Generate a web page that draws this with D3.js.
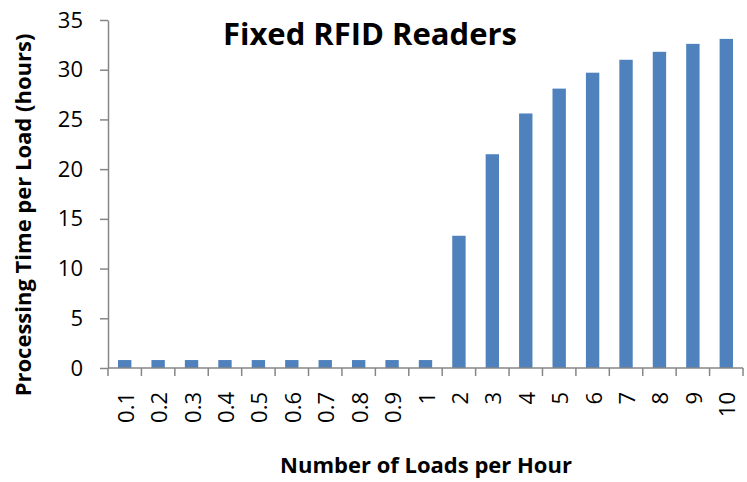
<!DOCTYPE html>
<html>
<head>
<meta charset="utf-8">
<script src="https://cdn.jsdelivr.net/npm/d3@7"></script>
<style>
  body { margin: 0; background: #fff; }
  text { font-family: "Open Sans", "Liberation Sans", sans-serif; }
</style>
</head>
<body>
<script>
const categories = ['0.1', '0.2', '0.3', '0.4', '0.5', '0.6', '0.7', '0.8', '0.9', '1',
                    '2', '3', '4', '5', '6', '7', '8', '9', '10'];
const values = [0.8, 0.8, 0.8, 0.8, 0.8, 0.8, 0.8, 0.8, 0.8, 0.8,
                13.3, 21.5, 25.6, 28.1, 29.7, 31.0, 31.8, 32.6, 33.1];
const yTicks = [0, 5, 10, 15, 20, 25, 30, 35];

const svgWidth = 747;
const svgHeight = 482;
const margin = { top: 20, right: 4, bottom: 114, left: 108 };
const chartWidth = svgWidth - margin.left - margin.right;
const chartHeight = svgHeight - margin.top - margin.bottom;

const svg = d3.select('body').append('svg')
    .attr('width', svgWidth)
    .attr('height', svgHeight);

const g = svg.append('g').attr('transform', 'translate(' + margin.left + ',' + margin.top + ')');

let x = d3.scaleBand().domain(categories).range([0, chartWidth]).paddingInner(0.6).paddingOuter(0.3);
let xTickPos = d3.scaleBand().domain(categories).range([0, chartWidth]);
let y = d3.scaleLinear().domain([0, 35]).range([chartHeight, 0]);

// bars
g.selectAll('.bar')
    .data(values)
    .enter().append('rect')
    .attr('class', 'bar')
    .attr('x', (d, i) => x(categories[i]))
    .attr('y', d => y(d))
    .attr('width', x.bandwidth())
    .attr('height', d => chartHeight - y(d))
    .attr('fill', '#4F81BD');

// y axis
const yAxis = g.append('g')
    .call(d3.axisLeft(y).tickValues(yTicks).tickSize(8).tickSizeOuter(0).tickPadding(17));
yAxis.select('.domain').attr('stroke', '#868686').attr('stroke-width', 1.5);
yAxis.selectAll('.tick line').attr('stroke', '#868686').attr('stroke-width', 1.5);
yAxis.selectAll('.tick text').attr('font-size', 22).attr('fill', '#000');

// x axis with ticks between categories
const xAxisG = g.append('g').attr('transform', 'translate(0,' + chartHeight + ')');
xAxisG.append('line')
    .attr('x1', 0).attr('x2', chartWidth)
    .attr('stroke', '#868686').attr('stroke-width', 1.5);
const tickEdges = categories.map(c => xTickPos(c)).concat([chartWidth]);
xAxisG.selectAll('.xtick')
    .data(tickEdges)
    .enter().append('line')
    .attr('class', 'xtick')
    .attr('x1', d => d).attr('x2', d => d)
    .attr('y1', 0).attr('y2', 8)
    .attr('stroke', '#868686').attr('stroke-width', 1.5);
xAxisG.selectAll('.xlabel')
    .data(categories)
    .enter().append('text')
    .attr('class', 'xlabel')
    .attr('transform', d => 'translate(' + (xTickPos(d) + xTickPos.bandwidth() / 2 + 9) + ',24) rotate(-90)')
    .attr('text-anchor', 'end')
    .attr('font-size', 22)
    .attr('fill', '#000')
    .text(d => d);

// title
svg.append('text')
    .attr('x', 370)
    .attr('y', 45)
    .attr('text-anchor', 'middle')
    .attr('font-size', 31)
    .attr('font-weight', 'bold')
    .text('Fixed RFID Readers');

// axis titles
svg.append('text')
    .attr('x', 426)
    .attr('y', 473)
    .attr('text-anchor', 'middle')
    .attr('font-size', 22)
    .attr('font-weight', 'bold')
    .text('Number of Loads per Hour');

svg.append('text')
    .attr('transform', 'translate(31,215) rotate(-90)')
    .attr('text-anchor', 'middle')
    .attr('font-size', 22)
    .attr('font-weight', 'bold')
    .text('Processing Time per Load (hours)');
</script>
</body>
</html>
